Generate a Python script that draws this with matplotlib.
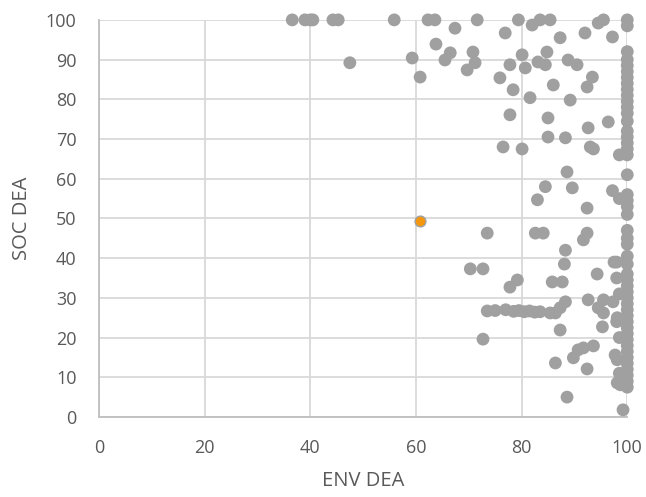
import matplotlib
matplotlib.use("Agg")
import matplotlib.pyplot as plt

# ENV DEA (x) and SOC DEA (y) scores for the gray points
env_dea = [
    36.6, 39.0, 40.0, 40.5, 44.3, 45.3, 55.9, 62.3, 63.6, 71.6, 79.4, 83.5, 85.4, 95.5, 82.0, 94.5,
    67.4, 76.9, 87.3, 92.0, 97.2,
    47.5, 59.3, 60.8, 63.8, 66.5, 65.5, 70.8, 71.2, 69.7, 75.9, 77.8, 80.1, 80.7, 78.4, 81.6,
    83.1, 84.5, 84.8, 86.0, 88.8, 90.5, 93.4, 92.4, 89.2, 77.8, 85.0, 92.6, 96.4,
    85.0, 88.3, 76.5, 80.1, 93.0, 93.6,
    88.6, 84.5, 89.6, 97.2, 83.0, 92.4, 73.5, 82.6, 84.1, 92.4, 91.7, 88.3, 88.1,
    70.3, 72.7, 79.2, 77.8, 85.8, 87.7, 94.3, 97.5,
    88.3, 87.3, 85.4, 86.4, 73.5, 75.0, 77.0, 78.5, 79.5, 80.5, 81.5, 82.5, 83.5,
    92.6, 95.5, 97.3, 94.5, 95.5, 98.1, 95.3, 87.3, 72.7,
    93.6, 91.7, 90.7, 89.8, 86.4, 92.4, 98.1, 97.7, 98.1, 98.7, 88.6, 99.2,
    98.5, 98.5, 98.0, 98.0, 98.5, 98.0, 98.5, 98.5,
    100, 100, 100, 100, 100, 100, 100, 100, 100, 100, 100, 100, 100, 100, 100, 100, 100, 100, 100,
    100, 100, 100, 100, 100, 100, 100, 100, 100, 100, 100, 100, 100, 100, 100, 100, 100, 100, 100,
    100, 100, 100, 100, 100, 100, 100, 100, 100, 100, 100,
]
soc_dea = [
    100, 100, 100, 100, 100, 100, 100, 100, 100, 100, 100, 100, 100, 100, 98.7, 99.2,
    97.9, 96.7, 95.5, 96.7, 95.7,
    89.2, 90.4, 85.6, 93.9, 91.7, 89.9, 91.9, 89.2, 87.4, 85.4, 88.7, 91.2, 87.9, 82.4, 80.4,
    89.4, 88.7, 91.9, 83.6, 89.9, 88.7, 85.6, 83.1, 79.8, 76.1, 75.3, 72.8, 74.3,
    70.5, 70.3, 68.0, 67.5, 68.0, 67.5,
    61.7, 58.0, 57.7, 57.0, 54.7, 52.6, 46.3, 46.3, 46.3, 46.3, 44.6, 42.0, 38.5,
    37.3, 37.3, 34.5, 32.7, 34.0, 34.0, 36.0, 39.0,
    29.0, 27.5, 26.2, 26.2, 26.7, 26.8, 27.0, 26.6, 26.8, 26.5, 26.7, 26.4, 26.5,
    29.5, 29.5, 29.0, 27.5, 26.2, 25.0, 22.7, 21.9, 19.6,
    17.9, 17.4, 16.9, 14.9, 13.6, 12.1, 14.4, 15.6, 8.6, 8.1, 5.0, 1.8,
    66.0, 55.0, 39.0, 35.0, 31.0, 24.0, 20.0, 11.0,
    100, 98.5, 92, 90, 88.5, 87, 85.5, 84, 82.5, 81, 79.5, 78, 76.5, 74.5, 72, 70.5, 69, 67.5, 66,
    61, 56, 54.5, 53, 51, 47, 45, 43.5, 40.5, 38.5, 36, 34.5, 33, 31.5, 30, 28.5, 27, 25.5, 24,
    22.5, 21, 19.5, 18, 16.5, 15, 13.5, 12, 10.5, 9, 7.5,
]

# highlighted point (orange)
highlight_env = [60.8]
highlight_soc = [49.4]

x_ticks = [0, 20, 40, 60, 80, 100]
y_ticks = [0, 10, 20, 30, 40, 50, 60, 70, 80, 90, 100]

plt.rcParams['font.family'] = ['Open Sans', 'DejaVu Sans']

fig = plt.figure(figsize=(6.46, 4.97), dpi=100)
ax = fig.add_axes([0.153, 0.161, 0.818, 0.799])

ax.scatter(env_dea, soc_dea, s=85, color='#A0A0A0', edgecolors='none', zorder=3, clip_on=False)
ax.scatter(highlight_env, highlight_soc, s=60, color='#F5960F', edgecolors='#A0A0A0',
           linewidths=1.0, zorder=4, clip_on=False)

ax.set_xlim(0, 100)
ax.set_ylim(0, 100)
ax.set_xticks(x_ticks)
ax.set_yticks(y_ticks)
ax.grid(True, color='#D9D9D9', linewidth=1.3, zorder=0)
ax.set_axisbelow(True)

for side in ['top', 'right']:
    ax.spines[side].set_visible(False)
for side in ['left', 'bottom']:
    ax.spines[side].set_color('#BFBFBF')
    ax.spines[side].set_linewidth(1.3)

ax.tick_params(axis='both', length=0, labelsize=13, labelcolor='#595959')
ax.tick_params(axis='y', pad=16)
ax.tick_params(axis='x', pad=16)

ax.set_xlabel('ENV DEA', fontsize=14.5, color='#595959', labelpad=10)
ax.set_ylabel('SOC DEA', fontsize=14.5, color='#595959', labelpad=10)

fig.savefig('out.png', dpi=100, facecolor='white')
